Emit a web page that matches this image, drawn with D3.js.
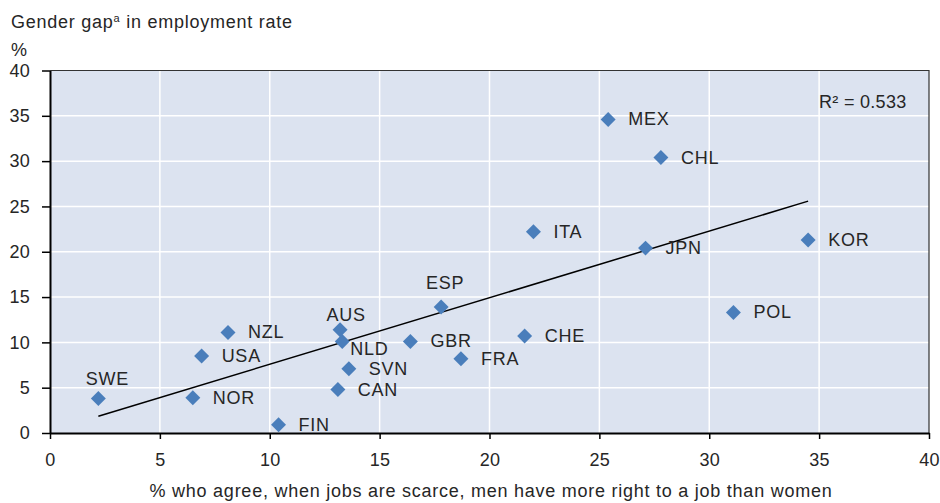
<!DOCTYPE html>
<html>
<head>
<meta charset="utf-8">
<script src="https://cdn.jsdelivr.net/npm/d3@7"></script>
<style>
  body { margin: 0; background: #fff; }
  svg text { font-family: "Liberation Sans", Arial, sans-serif; fill: #262626; letter-spacing: 0.75px; }
</style>
</head>
<body>
<svg id="chart" width="940" height="503"></svg>
<script>
const countries = ["SWE", "NOR", "USA", "NZL", "FIN", "AUS", "NLD", "SVN", "CAN", "GBR",
  "ESP", "FRA", "CHE", "ITA", "MEX", "CHL", "JPN", "POL", "KOR"];
const agreeShare = [2.2, 6.5, 6.9, 8.1, 10.4, 13.2, 13.3, 13.6, 13.1, 16.4,
  17.8, 18.7, 21.6, 22.0, 25.4, 27.8, 27.1, 31.1, 34.5];
const genderGap = [3.8, 3.9, 8.5, 11.1, 0.9, 11.4, 10.1, 7.1, 4.8, 10.1,
  13.9, 8.2, 10.7, 22.2, 34.6, 30.4, 20.4, 13.3, 21.3];
const xTicks = [0, 5, 10, 15, 20, 25, 30, 35, 40];
const yTicks = [0, 5, 10, 15, 20, 25, 30, 35, 40];

// label placement (layout only): [dx, dy, anchor]
const labelOffset = {
  SWE: [9, -14, "middle"], AUS: [6, -9, "middle"], ESP: [4, -18, "middle"],
  NLD: [8, 14, "start"]
};
const defaultOffset = [20, 6, "start"];

const svg = d3.select("#chart");
const plot = { left: 50, right: 929, top: 70.5, bottom: 433 };
const fontSize = 18;

const x = d3.scaleLinear().domain([0, 40]).range([plot.left, plot.right]);
const y = d3.scaleLinear().domain([0, 40]).range([plot.bottom, plot.top]);

// plot background
svg.append("rect")
  .attr("x", plot.left).attr("y", plot.top)
  .attr("width", plot.right - plot.left).attr("height", plot.bottom - plot.top)
  .attr("fill", "#dce3f0");

// grid
svg.append("g").selectAll("line").data(xTicks.slice(1, -1)).join("line")
  .attr("x1", d => x(d)).attr("x2", d => x(d))
  .attr("y1", plot.top).attr("y2", plot.bottom)
  .attr("stroke", "#fff").attr("stroke-width", 1.5);
svg.append("g").selectAll("line").data(yTicks.slice(1, -1)).join("line")
  .attr("y1", d => y(d)).attr("y2", d => y(d))
  .attr("x1", plot.left).attr("x2", plot.right)
  .attr("stroke", "#fff").attr("stroke-width", 1.5);

// frame top and right
svg.append("path")
  .attr("d", `M${plot.left},${plot.top}H${plot.right}V${plot.bottom}`)
  .attr("fill", "none").attr("stroke", "#333").attr("stroke-width", 1.2);

// axes
const xAxis = svg.append("g")
  .attr("transform", `translate(0,${plot.bottom})`)
  .call(d3.axisBottom(x).tickValues(xTicks).tickSize(6).tickPadding(14).tickSizeOuter(0));
const yAxis = svg.append("g")
  .attr("transform", `translate(${plot.left},0)`)
  .call(d3.axisLeft(y).tickValues(yTicks).tickSize(8).tickPadding(12).tickSizeOuter(0));

[xAxis, yAxis].forEach(ax => {
  ax.select(".domain").attr("stroke", "#000").attr("stroke-width", 2);
  ax.selectAll(".tick line").attr("stroke", "#000").attr("stroke-width", 1.5);
  ax.selectAll(".tick text")
    .attr("font-size", fontSize)
    .style("font-family", "'Liberation Sans', Arial, sans-serif")
    .style("letter-spacing", "0.3px")
    .attr("fill", "#262626");
});

// regression line from the data
const n = agreeShare.length;
const mx = d3.mean(agreeShare), my = d3.mean(genderGap);
let sxy = 0, sxx = 0;
for (let i = 0; i < n; i++) {
  sxy += (agreeShare[i] - mx) * (genderGap[i] - my);
  sxx += (agreeShare[i] - mx) ** 2;
}
const slope = sxy / sxx, intercept = my - slope * mx;
const xMin = d3.min(agreeShare), xMax = d3.max(agreeShare);
svg.append("line")
  .attr("x1", x(xMin)).attr("y1", y(intercept + slope * xMin))
  .attr("x2", x(xMax)).attr("y2", y(intercept + slope * xMax))
  .attr("stroke", "#000").attr("stroke-width", 1.5);

// points
const pts = countries.map((c, i) => ({ c, x: agreeShare[i], y: genderGap[i] }));
svg.append("g").selectAll("path").data(pts).join("path")
  .attr("d", d3.symbol().type(d3.symbolSquare).size(112))
  .attr("transform", d => `translate(${x(d.x)},${y(d.y)}) rotate(45)`)
  .attr("fill", "#4a7ebb");

// labels
const off = d => labelOffset[d.c] || defaultOffset;
svg.append("g").selectAll("text").data(pts).join("text")
  .attr("x", d => x(d.x) + off(d)[0])
  .attr("y", d => y(d.y) + off(d)[1])
  .attr("text-anchor", d => off(d)[2])
  .attr("font-size", fontSize)
  .text(d => d.c);

// R squared
svg.append("text")
  .attr("x", 819).attr("y", 108)
  .attr("font-size", fontSize)
  .style("letter-spacing", "0.3px")
  .text("R² = 0.533");

// titles
const title = svg.append("text").attr("x", 11).attr("y", 28).attr("font-size", fontSize);
title.append("tspan").text("Gender gap");
title.append("tspan").attr("font-size", 11).attr("dy", -6).text("a");
title.append("tspan").attr("dy", 6).text(" in employment rate");

svg.append("text").attr("x", 11).attr("y", 56).attr("font-size", fontSize).text("%");

svg.append("text")
  .attr("x", 491).attr("y", 497)
  .attr("text-anchor", "middle")
  .attr("font-size", fontSize)
  .text("% who agree, when jobs are scarce, men have more right to a job than women");
</script>
</body>
</html>
